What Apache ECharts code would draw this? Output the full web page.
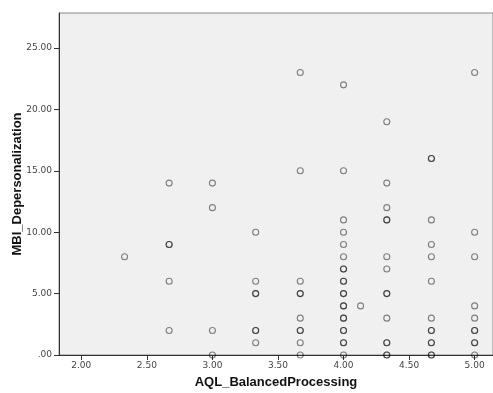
<!DOCTYPE html>
<html lang="en">
<head>
    <meta charset="UTF-8">
    <title>MBI_Depersonalization vs AQL_BalancedProcessing</title>
    <script src="https://cdn.jsdelivr.net/npm/echarts@6.0.0/dist/echarts.min.js"></script>
    <style>
        html, body { margin: 0; padding: 0; background: #fff; }
    </style>
</head>
<body>
    <div id="ec" style="width:493px;height:393px"></div>
<script>
    // x levels (AQL_BalancedProcessing) and the y values seen at each level
    // repeated values = overlapping cases (drawn darker in the original)
    var y233 = [8]
    var y267 = [14, 9, 9, 6, 2]
    var y300 = [14, 12, 2, 0]
    var y333 = [10, 6, 5, 5, 2, 2, 1]
    var y367 = [23, 15, 6, 5, 5, 3, 2, 2, 1, 0]
    var y400 = [22, 15, 11, 10, 9, 8, 7, 7, 6, 6, 5, 5, 4, 4, 3, 3, 2, 2, 1, 1, 0]
    var y413 = [4]
    var y433 = [19, 14, 12, 11, 11, 8, 7, 5, 5, 3, 1, 1, 0, 0]
    var y467 = [16, 16, 11, 9, 8, 6, 3, 2, 2, 1, 1, 0, 0]
    var y500 = [23, 10, 8, 4, 3, 2, 2, 1, 1, 0]

    var xLevels = [2.33, 2.67, 3.00, 3.33, 3.67, 4.00, 4.13, 4.33, 4.67, 5.00]
    var yLevels = [y233, y267, y300, y333, y367, y400, y413, y433, y467, y500]

    var xTicks = [2.0, 2.5, 3.0, 3.5, 4.0, 4.5, 5.0]
    var yTicks = [0, 5, 10, 15, 20, 25]

    var points = []
    xLevels.forEach(function (x, i) {
        yLevels[i].forEach(function (y) {
            points.push([x, y])
        })
    })

    function fmt(v) {
        var s = v.toFixed(2)
        return s.indexOf('0.') === 0 ? s.slice(1) : s
    }

    var mychart = echarts.init(document.getElementById('ec'))
    var options = {
        animation: false,
        textStyle: { fontFamily: 'DejaVu Sans' },
        grid: {
            left: 59, top: 13, right: 0, bottom: 38,
            outerBoundsMode: 'none',
            containLabel: false,
            show: true,
            backgroundColor: '#f0f0f0',
            borderColor: '#888',
            borderWidth: 1
        },
        xAxis: {
            type: 'value',
            min: 1.83,
            max: 5.14,
            name: 'AQL_BalancedProcessing',
            nameLocation: 'middle',
            nameGap: 21,
            nameMoveOverlap: false,
            nameTextStyle: { fontFamily: 'Liberation Sans', fontWeight: 'bold', fontSize: 13, color: '#111' },
            axisLine: { show: true, onZero: false, lineStyle: { color: '#333', width: 1 } },
            axisTick: { show: true, length: 5, customValues: xTicks, lineStyle: { color: '#333' } },
            axisLabel: { customValues: xTicks, formatter: fmt, fontSize: 9, color: '#444', margin: 6 },
            splitLine: { show: false }
        },
        yAxis: {
            type: 'value',
            min: 0,
            max: 27.85,
            name: 'MBI_Depersonalization',
            nameLocation: 'middle',
            nameGap: 35,
            nameRotate: 90,
            nameMoveOverlap: false,
            nameTextStyle: { fontFamily: 'Liberation Sans', fontWeight: 'bold', fontSize: 13, color: '#111' },
            axisLine: { show: true, lineStyle: { color: '#333', width: 1 } },
            axisTick: { show: true, length: 5, customValues: yTicks, lineStyle: { color: '#333' } },
            axisLabel: { customValues: yTicks, formatter: fmt, fontSize: 9, color: '#444', margin: 7 },
            splitLine: { show: false }
        },
        series: [{
            type: 'scatter',
            symbol: 'circle',
            symbolSize: 6,
            itemStyle: {
                color: 'rgba(0,0,0,0)',
                borderColor: 'rgba(0,0,0,0.6)',
                borderWidth: 1.1
            },
            data: points
        }]
    }
    mychart.setOption(options)
</script>
</body>
</html>
